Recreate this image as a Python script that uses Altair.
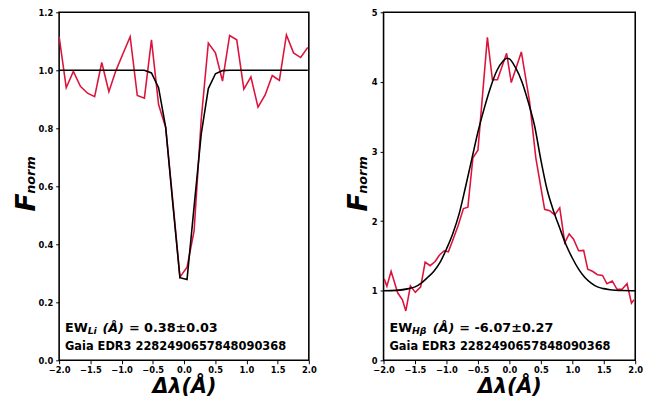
import altair as alt
import pandas as pd

# ---------------- data ----------------
li_x = [-2.000, -1.886, -1.772, -1.659, -1.545, -1.431, -1.317, -1.203, -1.090, -0.976,
        -0.862, -0.748, -0.634, -0.521, -0.407, -0.293, -0.179, -0.065, 0.049, 0.162,
        0.276, 0.390, 0.504, 0.617, 0.731, 0.845, 0.959, 1.072, 1.186, 1.300,
        1.414, 1.528, 1.641, 1.755, 1.869, 1.983]
li_flux = [1.116, 0.940, 0.996, 0.945, 0.921, 0.909, 1.027, 0.926, 0.999, 1.058,
           1.116, 0.913, 0.904, 1.105, 0.882, 0.803, 0.550, 0.287, 0.321, 0.446,
           0.830, 1.094, 1.060, 0.963, 1.120, 1.105, 0.935, 0.977, 0.873, 0.915,
           0.982, 0.965, 1.122, 1.060, 1.044, 1.079]
li_fit = [1.0, 1.0, 1.0, 1.0, 1.0, 1.0, 1.0, 1.0, 1.0, 1.0,
          1.0, 1.0, 1.0, 0.991, 0.940, 0.803, 0.540, 0.285, 0.279, 0.530,
          0.780, 0.937, 0.988, 0.999, 1.0, 1.0, 1.0, 1.0, 1.0, 1.0,
          1.0, 1.0, 1.0, 1.0, 1.0, 1.0]

hb_x = [-1.99, -1.947, -1.88, -1.776, -1.70, -1.646, -1.573, -1.495, -1.41, -1.339,
        -1.26, -1.18, -1.114, -1.036, -0.97, -0.89, -0.817, -0.73, -0.66, -0.58,
        -0.50, -0.35, -0.27, -0.19, -0.044, 0.03, 0.19, 0.32, 0.42, 0.56,
        0.64, 0.72, 0.80, 0.88, 0.95, 1.02, 1.10, 1.18, 1.245, 1.32,
        1.40, 1.48, 1.55, 1.635, 1.71, 1.79, 1.87, 1.94, 1.98]
hb_flux = [1.17, 1.065, 1.28, 0.97, 0.87, 0.71, 1.07, 0.976, 1.055, 1.41,
           1.36, 1.42, 1.51, 1.574, 1.56, 1.75, 1.93, 2.18, 2.20, 2.91,
           3.02, 4.64, 4.03, 4.03, 4.41, 3.99, 4.43, 3.72, 2.91, 2.17,
           2.15, 2.09, 2.19, 1.69, 1.815, 1.74, 1.574, 1.58, 1.31, 1.28,
           1.23, 1.22, 1.10, 1.14, 1.02, 1.02, 1.10, 0.82, 0.87]
hb_fit_x = [-2.0, -1.8, -1.6, -1.5, -1.4, -1.3, -1.2, -1.1, -1.0, -0.9,
            -0.8, -0.7, -0.6, -0.5, -0.4, -0.3, -0.2, -0.1, -0.04, 0.0,
            0.1, 0.2, 0.3, 0.4, 0.5, 0.6, 0.7, 0.8, 0.9, 1.0,
            1.1, 1.2, 1.3, 1.4, 1.5, 1.6, 1.8, 2.0]
hb_fit = [1.0, 1.005, 1.03, 1.055, 1.11, 1.19, 1.28, 1.41, 1.60, 1.82,
          2.10, 2.48, 2.88, 3.28, 3.62, 3.92, 4.16, 4.30, 4.34, 4.33,
          4.20, 4.00, 3.71, 3.37, 2.88, 2.45, 2.15, 1.90, 1.66, 1.47,
          1.31, 1.19, 1.11, 1.055, 1.03, 1.015, 1.003, 1.0]

x_ticks = [-2.0, -1.5, -1.0, -0.5, 0.0, 0.5, 1.0, 1.5, 2.0]
li_yticks = [0.0, 0.2, 0.4, 0.6, 0.8, 1.0, 1.2]
hb_yticks = [0, 1, 2, 3, 4, 5]

gaia_label = "Gaia EDR3 2282490657848090368"
li_ew = "= 0.38±0.03"
hb_ew = "= -6.07±0.27"

FONT = "DejaVu Sans"
RED = "#DC143C"
W_LEFT, W_RIGHT, H = 254, 256, 354


def x_enc(width):
    return alt.X(
        "x:Q",
        scale=alt.Scale(domain=[-2, 2], nice=False, zero=False),
        axis=alt.Axis(
            values=x_ticks, format=".1f", title="Δλ(Å)",
            titleFont=FONT, titleFontSize=21, titleFontWeight="bold",
            titleFontStyle="italic", titleColor="black",
            titleBaseline="alphabetic", titleAlign="center",
            titleY=33, titleX=width / 2,
            labelFont=FONT, labelFontSize=8.5, labelFontWeight="bold",
            labelColor="black", labelPadding=2, labelFlush=False,
            labelOverlap=False,
            tickColor="black", tickSize=3.5, tickWidth=1,
            domain=False, grid=False,
        ),
    )


def y_enc(domain, ticks, fmt, title_x):
    return alt.Y(
        "y:Q",
        scale=alt.Scale(domain=domain, nice=False, zero=False),
        axis=alt.Axis(
            values=ticks, format=fmt, title="F",
            titleFont=FONT, titleFontSize=27, titleFontWeight="bold",
            titleFontStyle="italic", titleColor="black", titleAngle=270,
            titleBaseline="alphabetic", titleAlign="center",
            titleX=title_x, titleY=H / 2 + 16,
            labelFont=FONT, labelFontSize=8.5, labelFontWeight="bold",
            labelColor="black", labelPadding=3, labelFlush=False,
            labelOverlap=False,
            tickColor="black", tickSize=3.5, tickWidth=1,
            domain=False, grid=False,
        ),
    )


def text(s, x, y, size, style="normal", angle=0, align="left"):
    return alt.Chart(pd.DataFrame({"s": [s]})).mark_text(
        text=s, font=FONT, fontSize=size, fontWeight="bold", fontStyle=style,
        align=align, baseline="alphabetic", angle=angle, color="black",
    ).encode(x=alt.value(x), y=alt.value(y))


def panel(xs, ys, fx, fy, interp, domain, ticks, fmt, title_x, width,
          sub, sub_dx, paren_x, ew, ew_x):
    xe = x_enc(width)
    ye = y_enc(domain, ticks, fmt, title_x)
    red = alt.Chart(pd.DataFrame({"x": xs, "y": ys})).mark_line(
        color=RED, strokeWidth=1.6, clip=True
    ).encode(x=xe, y=ye)
    black = alt.Chart(pd.DataFrame({"x": fx, "y": fy})).mark_line(
        color="black", strokeWidth=1.6, clip=True, interpolate=interp,
    ).encode(x=xe, y=ye)
    layers = [
        red, black,
        text("norm", title_x, H / 2 - 11.5, 13, "italic", 270, "center"),
        text("EW", 6, H - 29, 13),
        text(sub, sub_dx, H - 26.5, 9.5, "italic"),
        text("(Å)", paren_x, H - 29, 13, "italic"),
        text(ew, ew_x, H - 29, 13),
        text(gaia_label, 6, H - 11, 11.6),
    ]
    return alt.layer(*layers).properties(width=width, height=H)


left = panel(li_x, li_flux, li_x, li_fit, "linear", [0, 1.2], li_yticks, ".1f", -25,
             W_LEFT, "Li", 29, 44, li_ew, 71)
right = panel(hb_x, hb_flux, hb_fit_x, hb_fit, "monotone", [0, 5], hb_yticks, "d", -17,
              W_RIGHT, "Hβ", 29, 50, hb_ew, 77)

chart = alt.hconcat(left, right, spacing=27).properties(
    padding={"left": 4, "top": -4, "right": 5, "bottom": 0},
    background="white",
).configure_view(stroke="black", strokeWidth=1.6)

chart.save("out.html", embed_options={"renderer": "svg", "actions": False})
